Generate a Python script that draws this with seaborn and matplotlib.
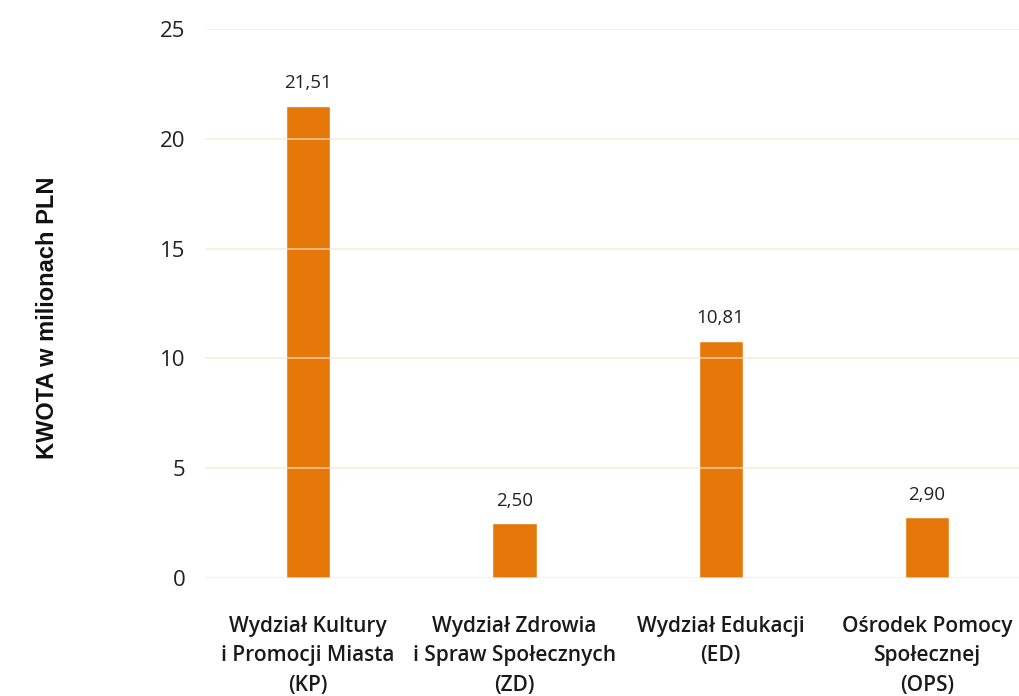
import matplotlib
matplotlib.use("Agg")
import matplotlib.pyplot as plt
import seaborn as sns
import pandas as pd

# dane
categories = [
    "Wydział Kultury\ni Promocji Miasta\n(KP)",
    "Wydział Zdrowia\ni Spraw Społecznych\n(ZD)",
    "Wydział Edukacji\n(ED)",
    "Ośrodek Pomocy\nSpołecznej\n(OPS)",
]
values = [21.51, 2.50, 10.81, 2.78]
value_labels = ["21,51", "2,50", "10,81", "2,90"]
y_ticks = [0, 5, 10, 15, 20, 25]

df = pd.DataFrame({"wydzial": categories, "kwota": values})

sns.set_theme(style="white")
plt.rcParams["font.family"] = ["Open Sans", "DejaVu Sans"]

fig = plt.figure(figsize=(10.19, 6.96), dpi=100)
ax = fig.add_axes([0.201, 0.1695, 0.81, 0.789])

sns.barplot(data=df, x="wydzial", y="kwota", color="#E6780A", saturation=1,
            width=0.215, ax=ax, zorder=1)

ax.set_ylim(0, 25)
ax.set_xlim(-0.5, 3.5)
ax.set_yticks(y_ticks)
ax.set_yticklabels([str(t) for t in y_ticks], fontsize=16, color="#222222")
ax.yaxis.grid(True, color="#FAE3CC", linewidth=1.2, alpha=0.7, zorder=2)
ax.set_axisbelow(False)
ax.tick_params(axis="y", length=0, pad=14)
ax.tick_params(axis="x", length=0, pad=27)
for lbl in ax.get_xticklabels():
    lbl.set_fontsize(15)
    lbl.set_fontweight("semibold")
    lbl.set_color("#1a1a1a")
    lbl.set_linespacing(1.55)

for s in ax.spines.values():
    s.set_visible(False)

for i, (v, t) in enumerate(zip(values, value_labels)):
    ax.text(i, v + 0.6, t, ha="center", va="bottom", fontsize=13.5, color="#222222")

ax.set_xlabel("")
ax.set_ylabel("")
fig.text(0.047, 0.543, "KWOTA w milionach PLN", rotation=90, ha="center", va="center",
         fontsize=17, fontweight="bold", family=["Liberation Sans", "DejaVu Sans"],
         color="#111111")

fig.savefig("out.png", dpi=100)
